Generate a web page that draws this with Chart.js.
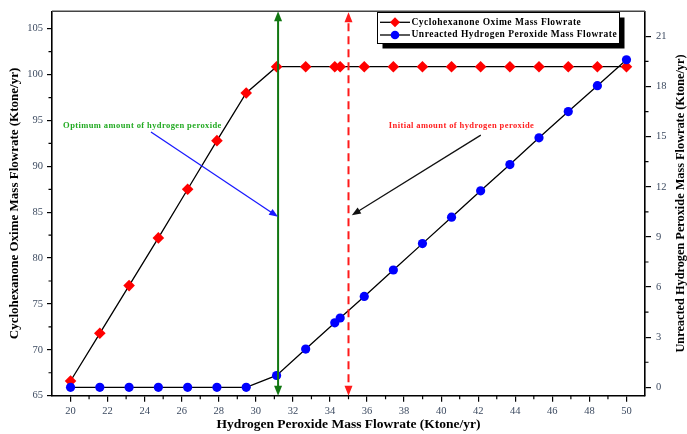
<!DOCTYPE html>
<html>
<head>
<meta charset="utf-8">
<script src="https://cdn.jsdelivr.net/npm/chart.js@4.4.1/dist/chart.umd.min.js"></script>
<style>
html, body { margin: 0; padding: 0; background: #fff; }
</style>
</head>
<body>
<canvas id="flowChart" width="687" height="434"></canvas>
<script>
// hydrogen peroxide feed, Ktone/yr
var peroxideFeed = [20, 21.58, 23.16, 24.74, 26.32, 27.9, 29.48, 31.12, 32.69, 34.26, 34.55,
    35.85, 37.42, 38.99, 40.56, 42.13, 43.71, 45.28, 46.86, 48.43, 50];
// cyclohexanone oxime produced, Ktone/yr (left axis)
var oximeFlow = [66.6, 71.8, 77.0, 82.2, 87.5, 92.8, 98.0, 100.86, 100.86, 100.86, 100.86,
    100.86, 100.86, 100.86, 100.86, 100.86, 100.86, 100.86, 100.86, 100.86, 100.86];
// unreacted hydrogen peroxide, Ktone/yr (right axis)
var unreactedFlow = [0, 0, 0, 0, 0, 0, 0, 0.71, 2.29, 3.86, 4.15,
    5.44, 7.02, 8.6, 10.18, 11.76, 13.33, 14.93, 16.5, 18.05, 19.6];

var xTicks = [20, 22, 24, 26, 28, 30, 32, 34, 36, 38, 40, 42, 44, 46, 48, 50];
var leftTicks = [65, 70, 75, 80, 85, 90, 95, 100, 105];
var rightTicks = [0, 3, 6, 9, 12, 15, 18, 21];

var seriesNames = ['Cyclohexanone Oxime Mass Flowrate', 'Unreacted Hydrogen Peroxide Mass Flowrate'];
var optimumFeed = 31.2;
var initialFeed = 35;

var serif = "'Liberation Serif', 'Times New Roman', serif";
var tickColor = '#3c4a60';

function toPoints(xs, ys) {
    var pts = [];
    for (var i = 0; i < xs.length; i++) {
        pts.push({ x: xs[i], y: ys[i] });
    }
    return pts;
}

function arrowHead(ctx, x, y, angle, len, half, color) {
    ctx.save();
    ctx.translate(x, y);
    ctx.rotate(angle);
    ctx.fillStyle = color;
    ctx.beginPath();
    ctx.moveTo(0, 0);
    ctx.lineTo(-len, -half);
    ctx.lineTo(-len, half);
    ctx.closePath();
    ctx.fill();
    ctx.restore();
}

function arrow(ctx, x1, y1, x2, y2, color, width) {
    var ang = Math.atan2(y2 - y1, x2 - x1);
    ctx.save();
    ctx.strokeStyle = color;
    ctx.lineWidth = width;
    ctx.beginPath();
    ctx.moveTo(x1, y1);
    ctx.lineTo(x2 - 7 * Math.cos(ang), y2 - 7 * Math.sin(ang));
    ctx.stroke();
    ctx.restore();
    arrowHead(ctx, x2, y2, ang, 9, 3.5, color);
}

var decorPlugin = {
    id: 'decor',
    afterDatasetsDraw: function (chart) {
        var ctx = chart.ctx;
        var area = chart.chartArea;
        var xs = chart.scales.x;
        var ys = chart.scales.y;

        // optimum feed marker
        var gx = xs.getPixelForValue(optimumFeed);
        ctx.save();
        ctx.strokeStyle = '#117711';
        ctx.lineWidth = 2;
        ctx.beginPath();
        ctx.moveTo(gx, area.top + 8);
        ctx.lineTo(gx, area.bottom - 8);
        ctx.stroke();
        ctx.restore();
        arrowHead(ctx, gx, area.top, -Math.PI / 2, 10, 4, '#117711');
        arrowHead(ctx, gx, area.bottom, Math.PI / 2, 10, 4, '#117711');

        // initial feed marker
        var rx = xs.getPixelForValue(initialFeed);
        ctx.save();
        ctx.strokeStyle = '#ff1a1a';
        ctx.lineWidth = 2;
        ctx.setLineDash([8, 5]);
        ctx.beginPath();
        ctx.moveTo(rx, area.top + 12);
        ctx.lineTo(rx, area.bottom - 8);
        ctx.stroke();
        ctx.restore();
        arrowHead(ctx, rx, area.top + 1, -Math.PI / 2, 10, 4, '#ff1a1a');
        arrowHead(ctx, rx, area.bottom, Math.PI / 2, 10, 4, '#ff1a1a');

        // notes
        ctx.save();
        ctx.font = 'bold 8.5px ' + serif;
        ctx.letterSpacing = '0.4px';
        ctx.textBaseline = 'middle';
        ctx.textAlign = 'left';
        ctx.fillStyle = '#22aa22';
        ctx.fillText('Optimum amount of hydrogen peroxide', xs.getPixelForValue(19.6), ys.getPixelForValue(94.4));
        ctx.textAlign = 'center';
        ctx.fillStyle = '#ff2020';
        ctx.fillText('Initial amount of hydrogen peroxide', xs.getPixelForValue(41.1), ys.getPixelForValue(94.4));
        ctx.restore();

        arrow(ctx, xs.getPixelForValue(24.34), ys.getPixelForValue(93.74),
            xs.getPixelForValue(31.2), ys.getPixelForValue(84.5), '#1a1aff', 1.3);
        arrow(ctx, xs.getPixelForValue(42.14), ys.getPixelForValue(93.4),
            xs.getPixelForValue(35.18), ys.getPixelForValue(84.68), '#111', 1.3);
    },
    afterDraw: function (chart) {
        var ctx = chart.ctx;
        var area = chart.chartArea;
        var xs = chart.scales.x;
        var ys = chart.scales.y;
        var ys1 = chart.scales.y1;
        var v, p;

        // top frame line
        ctx.save();
        ctx.strokeStyle = '#444';
        ctx.lineWidth = 1.6;
        ctx.beginPath();
        ctx.moveTo(area.left, area.top);
        ctx.lineTo(area.right, area.top);
        ctx.stroke();

        // minor ticks
        ctx.strokeStyle = '#000';
        ctx.lineWidth = 1.2;
        ctx.beginPath();
        for (v = 67.5; v < 106; v += 5) {
            p = ys.getPixelForValue(v);
            ctx.moveTo(area.left - 3.5, p);
            ctx.lineTo(area.left, p);
        }
        for (v = 21; v < 50; v += 2) {
            p = xs.getPixelForValue(v);
            ctx.moveTo(p, area.bottom);
            ctx.lineTo(p, area.bottom + 3.5);
        }
        for (v = 1.5; v < 22; v += 3) {
            p = ys1.getPixelForValue(v);
            ctx.moveTo(area.right, p);
            ctx.lineTo(area.right + 3.5, p);
        }
        ctx.stroke();
        ctx.restore();

        // right axis title, read bottom to top
        ctx.save();
        ctx.translate(680.5, (area.top + area.bottom) / 2);
        ctx.rotate(-Math.PI / 2);
        ctx.font = 'bold 12.3px ' + serif;
        ctx.fillStyle = '#000';
        ctx.textAlign = 'center';
        ctx.textBaseline = 'middle';
        ctx.fillText('Unreacted Hydrogen Peroxide Mass Flowrate (Ktone/yr)', 0, 0);
        ctx.restore();

        // legend with drop shadow
        var lx = 377.5, ly = 12.5, lw = 242, lh = 31;
        ctx.save();
        ctx.fillStyle = '#000';
        ctx.fillRect(lx + 5, ly + 5, lw, lh);
        ctx.fillStyle = '#fff';
        ctx.fillRect(lx, ly, lw, lh);
        ctx.strokeStyle = '#000';
        ctx.lineWidth = 1;
        ctx.strokeRect(lx, ly, lw, lh);
        var rows = [22.3, 35];
        var colors = ['#ff0000', '#0000ff'];
        for (var i = 0; i < 2; i++) {
            ctx.strokeStyle = '#000';
            ctx.lineWidth = 1.3;
            ctx.beginPath();
            ctx.moveTo(380, rows[i]);
            ctx.lineTo(410, rows[i]);
            ctx.stroke();
            ctx.fillStyle = colors[i];
            ctx.beginPath();
            if (i === 0) {
                ctx.moveTo(395, rows[i] - 5);
                ctx.lineTo(400, rows[i]);
                ctx.lineTo(395, rows[i] + 5);
                ctx.lineTo(390, rows[i]);
                ctx.closePath();
            } else {
                ctx.arc(395, rows[i], 4.3, 0, Math.PI * 2);
            }
            ctx.fill();
            ctx.fillStyle = '#000';
            ctx.font = 'bold 9.5px ' + serif;
            ctx.letterSpacing = '0.5px';
            ctx.textAlign = 'left';
            ctx.textBaseline = 'middle';
            ctx.fillText(seriesNames[i], 411.5, rows[i]);
        }
        ctx.restore();
    }
};

function initChart() {
    var canvas = document.getElementById('flowChart').getContext('2d');
    var tickFont = { family: serif, size: 10.5 };

    var database = {
        datasets: [{
            label: seriesNames[0],
            data: toPoints(peroxideFeed, oximeFlow),
            yAxisID: 'y',
            order: 1,
            borderColor: '#000',
            borderWidth: 1.3,
            pointStyle: 'rectRot',
            pointRadius: 5.8,
            pointBackgroundColor: '#ff0000',
            pointBorderColor: '#ff0000',
            pointBorderWidth: 0,
            tension: 0
        }, {
            label: seriesNames[1],
            data: toPoints(peroxideFeed, unreactedFlow),
            yAxisID: 'y1',
            order: 0,
            borderColor: '#000',
            borderWidth: 1.3,
            pointStyle: 'circle',
            pointRadius: 4.6,
            pointBackgroundColor: '#0000ff',
            pointBorderColor: '#0000ff',
            pointBorderWidth: 0,
            tension: 0
        }]
    };

    var chartOptions = {
        responsive: false,
        animation: false,
        layout: { padding: { top: 7, left: 0, right: 0, bottom: 0 } },
        plugins: {
            legend: { display: false },
            tooltip: { enabled: false }
        },
        scales: {
            x: {
                type: 'linear',
                position: 'bottom',
                min: 19,
                max: 51,
                afterBuildTicks: function (scale) {
                    scale.ticks = xTicks.map(function (v) { return { value: v }; });
                },
                afterFit: function (scale) { scale.height = 38.3; },
                grid: { drawOnChartArea: false, tickLength: 6, color: '#000', lineWidth: 1.2 },
                border: { color: '#000', width: 1.6 },
                ticks: { font: tickFont, color: tickColor, padding: 3, autoSkip: false, maxRotation: 0 },
                title: {
                    display: true,
                    text: 'Hydrogen Peroxide Mass Flowrate (Ktone/yr)',
                    font: { family: serif, size: 13.5, weight: 'bold' },
                    color: '#000',
                    padding: { top: 0, bottom: 1.5 }
                }
            },
            y: {
                type: 'linear',
                position: 'left',
                min: 65,
                max: 106.9,
                afterBuildTicks: function (scale) {
                    scale.ticks = leftTicks.map(function (v) { return { value: v }; });
                },
                afterFit: function (scale) { scale.width = 52; },
                grid: { drawOnChartArea: false, tickLength: 5, color: '#000', lineWidth: 1.2 },
                border: { color: '#000', width: 1.6 },
                ticks: { font: tickFont, color: tickColor, padding: 4 },
                title: {
                    display: true,
                    text: 'Cyclohexanone Oxime Mass Flowrate (Ktone/yr)',
                    font: { family: serif, size: 13, weight: 'bold' },
                    color: '#000',
                    padding: { top: 6.5, bottom: 0 }
                }
            },
            y1: {
                type: 'linear',
                position: 'right',
                min: -0.5,
                max: 22.5,
                afterBuildTicks: function (scale) {
                    scale.ticks = rightTicks.map(function (v) { return { value: v }; });
                },
                afterFit: function (scale) { scale.width = 42; },
                grid: { drawOnChartArea: false, tickLength: 6, color: '#000', lineWidth: 1.2 },
                border: { color: '#000', width: 1.6 },
                ticks: { font: tickFont, color: tickColor, padding: 5 }
            }
        }
    };

    new Chart(canvas, {
        type: 'line',
        data: database,
        options: chartOptions,
        plugins: [decorPlugin]
    });
}

initChart();
</script>
</body>
</html>
